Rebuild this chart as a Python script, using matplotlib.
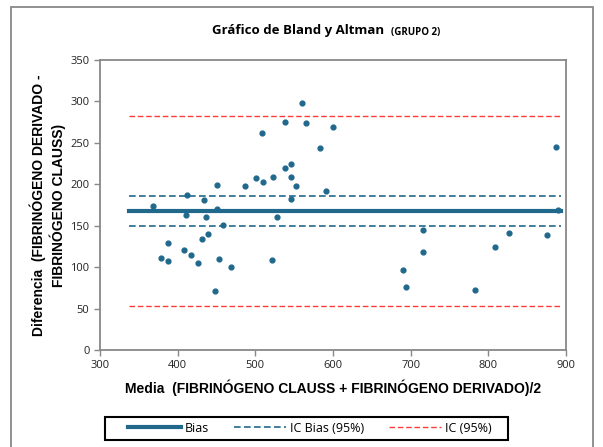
import numpy as np
import matplotlib.pyplot as plt
from matplotlib.patches import Rectangle

# media (x) y diferencia (y)
media = [368.6, 411.6, 410.7, 433.9, 436.0, 451.0, 450.2, 486.3, 501.3, 508.6,
         509.4, 522.3, 528.3, 538.6, 538.6, 546.3, 545.5, 545.5, 552.4, 560.5,
         565.2, 582.8, 590.9, 600.3, 887.0, 890.0, 458.8, 387.5, 378.0, 387.5,
         408.2, 417.7, 425.7, 431.3, 438.6, 452.7, 469.0, 448.0, 521.0, 715.3,
         715.3, 690.8, 694.3, 782.3, 808.0, 827.0, 875.2]
diferencia = [173.8, 186.7, 162.5, 180.6, 160.1, 199.5, 169.7, 198.3, 207.2, 261.9,
              203.1, 208.4, 160.1, 274.8, 219.3, 224.1, 208.4, 182.7, 198.3, 297.7,
              274.4, 244.2, 191.9, 268.6, 245.0, 168.6, 150.5, 129.5, 110.7, 107.8,
              120.3, 114.2, 104.8, 133.6, 139.6, 109.8, 99.7, 71.2, 108.6, 144.4,
              117.8, 96.9, 76.0, 72.0, 124.0, 141.6, 138.4]

bias = 167.7
ic_bias = [149.6, 185.8]
ic = [53.0, 282.0]
x_lineas = [337, 893]

azul = '#21698c'
rojo = '#ff3b3b'

fig = plt.figure(figsize=(6.03, 4.47), dpi=100)
ax = fig.add_axes([0.1658, 0.217, 0.7728, 0.6488])

ax.plot(x_lineas, [bias, bias], color=azul, lw=3.0, label='Bias', zorder=2)
ax.plot(x_lineas, [ic_bias[0]] * 2, color=azul, lw=1.2, ls=(0, (4, 2)), label='IC Bias (95%)', zorder=2)
ax.plot(x_lineas, [ic_bias[1]] * 2, color=azul, lw=1.2, ls=(0, (4, 2)), zorder=2)
ax.plot(x_lineas, [ic[0]] * 2, color=rojo, lw=1.0, ls=(0, (4, 2)), label='IC (95%)', zorder=2)
ax.plot(x_lineas, [ic[1]] * 2, color=rojo, lw=1.0, ls=(0, (4, 2)), zorder=2)
ax.scatter(media, diferencia, s=12, color=azul, zorder=3)

ax.set_xlim(300, 900)
ax.set_ylim(0, 350)
ax.set_xticks(range(300, 901, 100))
ax.set_yticks(range(0, 351, 50))
for s in ax.spines.values():
    s.set_color('#888888')
    s.set_linewidth(1.3)
ax.tick_params(direction='out', length=4, color='#888888', width=1,
               labelsize=8, labelcolor='#222222')
for lab in ax.get_xticklabels() + ax.get_yticklabels():
    lab.set_family('Open Sans')

ax.set_xlabel('Media  (FIBRINÓGENO CLAUSS + FIBRINÓGENO DERIVADO)/2',
              family='Liberation Sans', fontweight='bold', fontsize=10, labelpad=6)
ax.set_ylabel('Diferencia  (FIBRINÓGENO DERIVADO -\nFIBRINÓGENO CLAUSS)',
              family='Liberation Sans', fontweight='bold', fontsize=10, labelpad=3,
              linespacing=1.3)

fig.text(0.352, 0.932, 'Gráfico de Bland y Altman', family='Open Sans',
         fontweight='bold', fontsize=9.5, ha='left', va='center')
fig.text(0.648, 0.927, '(GRUPO 2)', family='Open Sans',
         fontweight='bold', fontsize=7, ha='left', va='center')

# leyenda sin marco; el recuadro se dibuja aparte
leg = fig.legend(loc='center', bbox_to_anchor=(0.514, 0.0425),
                 ncol=3, frameon=False, prop={'family': 'Open Sans', 'size': 9},
                 handlelength=4.2, handletextpad=0.3, columnspacing=2.0)
fig.patches.append(Rectangle((105 / 603, 7 / 447), 403 / 603, 23 / 447,
                             transform=fig.transFigure, fill=False,
                             edgecolor='black', lw=1.5))

fig.patches.append(Rectangle((11 / 603, -0.05), 582 / 603, 1.05 - 7 / 447,
                             transform=fig.transFigure, fill=False,
                             edgecolor='#888888', lw=1.3))

fig.savefig('out.png', dpi=100)
